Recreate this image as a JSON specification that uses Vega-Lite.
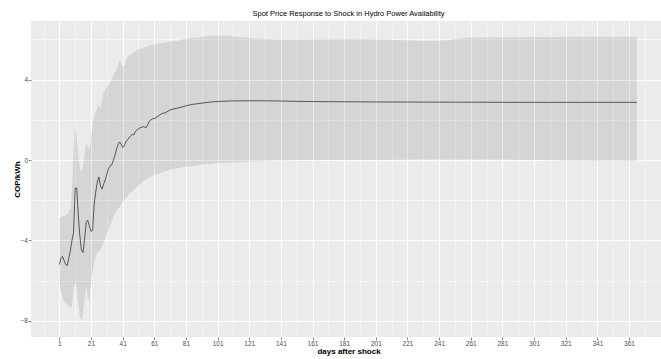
{
  "$schema": "https://vega.github.io/schema/vega-lite/v6.json",
  "width": 630,
  "height": 316,
  "autosize": "none",
  "padding": {"left": 31, "top": 21, "right": 0, "bottom": 22},
  "background": "white",
  "title": {"text": "Spot Price Response to Shock in Hydro Power Availability", "fontSize": 7.5, "font": "Liberation Sans", "fontWeight": "normal", "anchor": "middle", "frame": "group", "offset": 4, "dx": 2.5, "color": "#000000"},
  "config": {
    "view": {"fill": "#EBEBEB", "stroke": null},
    "axis": {"labelFont": "Liberation Sans", "titleFont": "Liberation Sans", "labelFlush": false, "labelOverlap": false}
  },
  "datasets": {
    "ribbon": [
      {"day": 1, "lo": -6.1, "hi": -2.9},
      {"day": 2, "lo": -6.5, "hi": -2.85},
      {"day": 3, "lo": -6.9, "hi": -2.8},
      {"day": 4, "lo": -7.0, "hi": -2.8},
      {"day": 5, "lo": -7.1, "hi": -2.75},
      {"day": 6, "lo": -7.2, "hi": -2.7},
      {"day": 7, "lo": -7.25, "hi": -2.6},
      {"day": 8, "lo": -7.35, "hi": -2.4},
      {"day": 9, "lo": -7.3, "hi": -1.5},
      {"day": 10, "lo": -6.4, "hi": 0.5},
      {"day": 11, "lo": -6.1, "hi": 1.8},
      {"day": 12, "lo": -6.5, "hi": 1.2},
      {"day": 13, "lo": -7.2, "hi": 0.2},
      {"day": 14, "lo": -7.8, "hi": -0.4},
      {"day": 15, "lo": -7.97, "hi": -0.6},
      {"day": 16, "lo": -7.6, "hi": -0.3},
      {"day": 17, "lo": -6.8, "hi": 0.4},
      {"day": 18, "lo": -6.3, "hi": 0.85},
      {"day": 19, "lo": -6.9, "hi": 0.7},
      {"day": 20, "lo": -7.0, "hi": 0.5},
      {"day": 21, "lo": -6.2, "hi": 1.2},
      {"day": 22, "lo": -5.6, "hi": 1.8},
      {"day": 23, "lo": -5.1, "hi": 2.2},
      {"day": 24, "lo": -4.8, "hi": 2.4},
      {"day": 25, "lo": -4.6, "hi": 2.6},
      {"day": 26, "lo": -4.5, "hi": 2.8},
      {"day": 27, "lo": -4.45, "hi": 2.5},
      {"day": 28, "lo": -4.3, "hi": 3.0},
      {"day": 29, "lo": -4.1, "hi": 3.35},
      {"day": 30, "lo": -3.9, "hi": 3.5},
      {"day": 31, "lo": -3.7, "hi": 3.65},
      {"day": 33, "lo": -3.3, "hi": 3.85},
      {"day": 35, "lo": -2.9, "hi": 4.2},
      {"day": 37, "lo": -2.55, "hi": 4.5},
      {"day": 39, "lo": -2.35, "hi": 4.95},
      {"day": 40, "lo": -2.2, "hi": 4.85},
      {"day": 41, "lo": -2.1, "hi": 4.65},
      {"day": 42, "lo": -2.0, "hi": 4.7},
      {"day": 44, "lo": -1.8, "hi": 5.1},
      {"day": 45, "lo": -1.7, "hi": 5.2},
      {"day": 47, "lo": -1.55, "hi": 5.3},
      {"day": 50, "lo": -1.33, "hi": 5.48},
      {"day": 53, "lo": -1.15, "hi": 5.55},
      {"day": 56, "lo": -0.95, "hi": 5.64},
      {"day": 60, "lo": -0.78, "hi": 5.75},
      {"day": 65, "lo": -0.65, "hi": 5.82},
      {"day": 70, "lo": -0.5, "hi": 5.88},
      {"day": 75, "lo": -0.42, "hi": 5.93},
      {"day": 80, "lo": -0.35, "hi": 6.03},
      {"day": 85, "lo": -0.3, "hi": 6.08},
      {"day": 90, "lo": -0.25, "hi": 6.11},
      {"day": 95, "lo": -0.2, "hi": 6.17},
      {"day": 100, "lo": -0.16, "hi": 6.2},
      {"day": 110, "lo": -0.12, "hi": 6.16},
      {"day": 122, "lo": -0.08, "hi": 6.08},
      {"day": 130, "lo": -0.05, "hi": 6.03},
      {"day": 140, "lo": -0.03, "hi": 6.0},
      {"day": 150, "lo": -0.01, "hi": 6.0},
      {"day": 180, "lo": 0.0, "hi": 6.02},
      {"day": 200, "lo": 0.0, "hi": 6.01},
      {"day": 220, "lo": 0.01, "hi": 5.96},
      {"day": 232, "lo": 0.02, "hi": 5.93},
      {"day": 245, "lo": 0.02, "hi": 5.95},
      {"day": 260, "lo": 0.03, "hi": 6.1},
      {"day": 300, "lo": 0.0, "hi": 6.12},
      {"day": 330, "lo": -0.05, "hi": 6.13},
      {"day": 366, "lo": -0.05, "hi": 6.14}
    ],
    "est": [
      {"day": 1, "value": -5.2},
      {"day": 2, "value": -4.9},
      {"day": 3, "value": -4.8},
      {"day": 4, "value": -5.0},
      {"day": 5, "value": -5.2},
      {"day": 6, "value": -5.25},
      {"day": 7, "value": -4.9},
      {"day": 8, "value": -4.5},
      {"day": 9, "value": -4.0},
      {"day": 10, "value": -3.6},
      {"day": 11, "value": -1.4},
      {"day": 12, "value": -1.4},
      {"day": 13, "value": -2.8},
      {"day": 14, "value": -3.8},
      {"day": 15, "value": -4.5},
      {"day": 16, "value": -4.6},
      {"day": 17, "value": -3.9},
      {"day": 18, "value": -3.1},
      {"day": 19, "value": -3.0},
      {"day": 20, "value": -3.3},
      {"day": 21, "value": -3.55},
      {"day": 22, "value": -3.5},
      {"day": 23, "value": -2.2},
      {"day": 24, "value": -1.6},
      {"day": 25, "value": -1.1},
      {"day": 26, "value": -0.85},
      {"day": 27, "value": -1.3},
      {"day": 28, "value": -1.45},
      {"day": 29, "value": -1.2},
      {"day": 30, "value": -1.0},
      {"day": 31, "value": -0.7},
      {"day": 32, "value": -0.45},
      {"day": 33, "value": -0.3},
      {"day": 34, "value": -0.25},
      {"day": 35, "value": -0.05},
      {"day": 36, "value": 0.2},
      {"day": 37, "value": 0.5},
      {"day": 38, "value": 0.75},
      {"day": 39, "value": 0.9},
      {"day": 40, "value": 0.8},
      {"day": 41, "value": 0.62},
      {"day": 42, "value": 0.7},
      {"day": 43, "value": 0.9},
      {"day": 44, "value": 1.0},
      {"day": 45, "value": 1.1},
      {"day": 46, "value": 1.2},
      {"day": 47, "value": 1.27},
      {"day": 48, "value": 1.25},
      {"day": 49, "value": 1.4},
      {"day": 50, "value": 1.5},
      {"day": 52, "value": 1.6},
      {"day": 54, "value": 1.66},
      {"day": 56, "value": 1.62},
      {"day": 58, "value": 1.95},
      {"day": 60, "value": 2.05},
      {"day": 62, "value": 2.1},
      {"day": 64, "value": 2.22},
      {"day": 66, "value": 2.32},
      {"day": 68, "value": 2.35},
      {"day": 70, "value": 2.45},
      {"day": 72, "value": 2.52},
      {"day": 75, "value": 2.57},
      {"day": 78, "value": 2.63},
      {"day": 82, "value": 2.72},
      {"day": 86, "value": 2.78},
      {"day": 90, "value": 2.82},
      {"day": 95, "value": 2.87},
      {"day": 100, "value": 2.91},
      {"day": 110, "value": 2.94},
      {"day": 120, "value": 2.95},
      {"day": 130, "value": 2.95},
      {"day": 145, "value": 2.93},
      {"day": 160, "value": 2.91},
      {"day": 200, "value": 2.89},
      {"day": 250, "value": 2.88},
      {"day": 300, "value": 2.87},
      {"day": 366, "value": 2.87}
    ]
  },
  "layer": [
    {
      "data": {"name": "ribbon"},
      "mark": {"type": "area", "color": "#000000", "opacity": 0.09},
      "encoding": {
        "x": {"field": "day", "type": "quantitative", "scale": {"domain": [-16.9, 381.2], "nice": false, "zero": false},
          "axis": {"orient": "bottom", "values": [1, 21, 41, 61, 81, 101, 121, 141, 161, 181, 201, 221, 241, 261, 281, 301, 321, 341, 361],
            "grid": true, "gridColor": "#FFFFFF", "gridWidth": 1, "gridOpacity": 1, "domain": false,
            "ticks": true, "tickColor": "#333333", "tickSize": 2.7, "tickWidth": 0.6,
            "labelFontSize": 6.5, "labelColor": "#4D4D4D", "labelPadding": 1,
            "title": "days after shock", "titleFontSize": 8, "titleFontWeight": "bold", "titleColor": "#000000",
            "titleX": 317.5, "titleY": 14.7, "titleBaseline": "middle", "titleAnchor": "middle"}},
        "y": {"field": "lo", "type": "quantitative", "scale": {"domain": [-8.81, 6.92], "nice": false, "zero": false},
          "axis": {"orient": "left", "values": [-8, -4, 0, 4],
            "grid": true, "gridColor": "#FFFFFF", "gridWidth": 1, "gridOpacity": 1, "domain": false,
            "ticks": true, "tickColor": "#333333", "tickSize": 2.7, "tickWidth": 0.6,
            "labelFontSize": 6.5, "labelColor": "#4D4D4D", "labelPadding": 0.8,
            "title": "COP/kWh", "titleFontSize": 8, "titleFontWeight": "bold", "titleColor": "#000000",
            "titleAngle": -90, "titleX": -13.5, "titleY": 158, "titleBaseline": "middle", "titleAnchor": "middle"}},
        "y2": {"field": "hi"}
      }
    },
    {
      "data": {"name": "est"},
      "mark": {"type": "line", "color": "#000000", "strokeWidth": 0.6},
      "encoding": {
        "x": {"field": "day", "type": "quantitative",
          "axis": {"orient": "bottom", "values": [-9, 11, 31, 51, 71, 91, 111, 131, 151, 171, 191, 211, 231, 251, 271, 291, 311, 331, 351, 371],
            "grid": true, "gridColor": "#FFFFFF", "gridWidth": 0.5, "gridOpacity": 1, "domain": false, "ticks": false, "labels": false, "title": null}},
        "y": {"field": "value", "type": "quantitative",
          "axis": {"orient": "left", "values": [-6, -2, 2, 6],
            "grid": true, "gridColor": "#FFFFFF", "gridWidth": 0.5, "gridOpacity": 1, "domain": false, "ticks": false, "labels": false, "title": null}}
      }
    }
  ],
  "resolve": {"axis": {"x": "independent", "y": "independent"}}
}
